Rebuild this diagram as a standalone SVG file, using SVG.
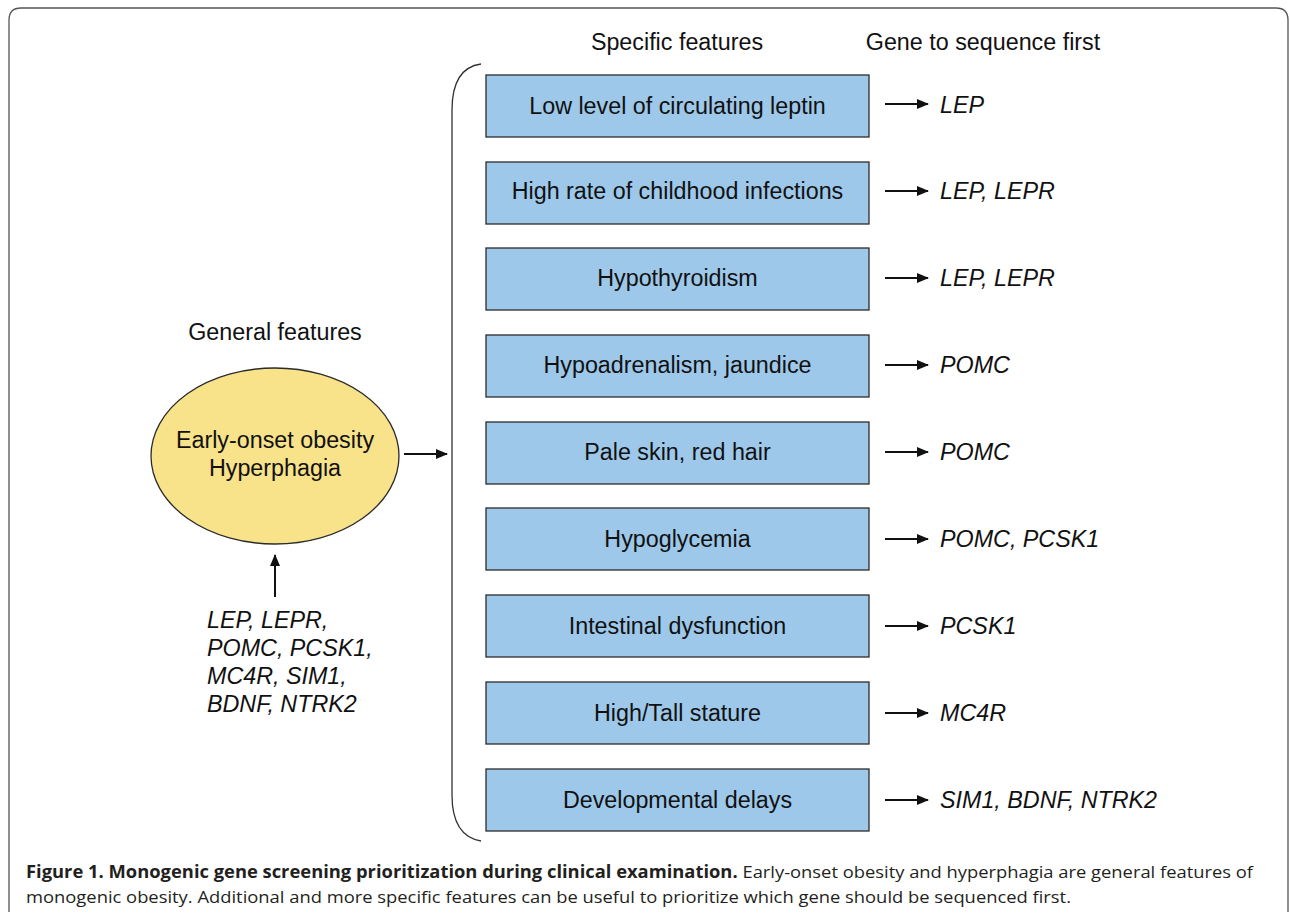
<svg xmlns="http://www.w3.org/2000/svg" width="1290" height="918" viewBox="0 0 1290 918">
<style>
.box{fill:#9dc8ea;stroke:#2b2b2b;stroke-width:1.3}
.bt{font-family:"Liberation Sans",Arial,sans-serif;font-size:23.3px;fill:#111;text-anchor:middle}
.gt{font-family:"Liberation Sans",Arial,sans-serif;font-size:23.3px;fill:#111;font-style:italic}
.hd{font-family:"Liberation Sans",Arial,sans-serif;font-size:23.3px;fill:#111}
.ln{stroke:#111;stroke-width:2;fill:none}
.cap{font-family:"Open Sans","Noto Sans",sans-serif;font-size:17px;fill:#231f20}
</style>
<defs>
<marker id="ah" markerWidth="12" markerHeight="10" refX="11" refY="5" orient="auto" markerUnits="userSpaceOnUse">
<path d="M0,0 L12,5 L0,10 z" fill="#111"/>
</marker>
</defs>
<rect width="1290" height="918" fill="#fff"/>
<path d="M9,912 V20 Q9,8 21,8 H1276 Q1288,8 1288,20 V912" fill="none" stroke="#555" stroke-width="1.3"/>
<path d="M481,64 Q452,68 452,110 V795 Q452,836 481,841" fill="none" stroke="#333" stroke-width="1.3"/>
<text class="hd" x="677" y="50" text-anchor="middle">Specific features</text>
<text class="hd" x="983" y="50" text-anchor="middle">Gene to sequence first</text>
<g id="general">
<text class="hd" x="275" y="340" text-anchor="middle">General features</text>
<ellipse cx="275" cy="456" rx="124" ry="88" fill="#f8e38a" stroke="#2b2b2b" stroke-width="1.3"/>
<text class="bt" x="275" y="448">Early-onset obesity</text>
<text class="bt" x="275" y="476">Hyperphagia</text>
</g>
<g id="genes-general">
<text class="gt" x="207" y="628">LEP, LEPR,</text>
<text class="gt" x="207" y="656">POMC, PCSK1,</text>
<text class="gt" x="207" y="684">MC4R, SIM1,</text>
<text class="gt" x="207" y="712">BDNF, NTRK2</text>
</g>
<g id="n1"><rect class="box" x="486" y="75" width="383" height="62"/><text class="bt" x="677.5" y="114">Low level of circulating leptin</text><text class="gt" x="940" y="113">LEP</text></g>
<g id="n2"><rect class="box" x="486" y="162" width="383" height="62"/><text class="bt" x="677.5" y="199">High rate of childhood infections</text><text class="gt" x="940" y="199">LEP, LEPR</text></g>
<g id="n3"><rect class="box" x="486" y="248" width="383" height="62"/><text class="bt" x="677.5" y="286">Hypothyroidism</text><text class="gt" x="940" y="286">LEP, LEPR</text></g>
<g id="n4"><rect class="box" x="486" y="335" width="383" height="62"/><text class="bt" x="677.5" y="373">Hypoadrenalism, jaundice</text><text class="gt" x="940" y="373">POMC</text></g>
<g id="n5"><rect class="box" x="486" y="422" width="383" height="62"/><text class="bt" x="677.5" y="460">Pale skin, red hair</text><text class="gt" x="940" y="460">POMC</text></g>
<g id="n6"><rect class="box" x="486" y="508" width="383" height="62"/><text class="bt" x="677.5" y="547">Hypoglycemia</text><text class="gt" x="940" y="547">POMC, PCSK1</text></g>
<g id="n7"><rect class="box" x="486" y="595" width="383" height="62"/><text class="bt" x="677.5" y="634">Intestinal dysfunction</text><text class="gt" x="940" y="634">PCSK1</text></g>
<g id="n8"><rect class="box" x="486" y="682" width="383" height="62"/><text class="bt" x="677.5" y="721">High/Tall stature</text><text class="gt" x="940" y="721">MC4R</text></g>
<g id="n9"><rect class="box" x="486" y="769" width="383" height="62"/><text class="bt" x="677.5" y="808">Developmental delays</text><text class="gt" x="940" y="808">SIM1, BDNF, NTRK2</text></g>
<g id="connectors">
<line class="ln" x1="404" y1="454" x2="447" y2="454" marker-end="url(#ah)"/>
<line class="ln" x1="275" y1="597" x2="275" y2="555" marker-end="url(#ah)"/>
<line class="ln" x1="885" y1="104" x2="928" y2="104" marker-end="url(#ah)"/>
<line class="ln" x1="885" y1="191" x2="928" y2="191" marker-end="url(#ah)"/>
<line class="ln" x1="885" y1="278" x2="928" y2="278" marker-end="url(#ah)"/>
<line class="ln" x1="885" y1="365" x2="928" y2="365" marker-end="url(#ah)"/>
<line class="ln" x1="885" y1="452" x2="928" y2="452" marker-end="url(#ah)"/>
<line class="ln" x1="885" y1="539" x2="928" y2="539" marker-end="url(#ah)"/>
<line class="ln" x1="885" y1="626" x2="928" y2="626" marker-end="url(#ah)"/>
<line class="ln" x1="885" y1="713" x2="928" y2="713" marker-end="url(#ah)"/>
<line class="ln" x1="885" y1="800" x2="928" y2="800" marker-end="url(#ah)"/>
</g>
<text class="cap" x="26" y="878" textLength="1227" lengthAdjust="spacingAndGlyphs"><tspan font-weight="bold">Figure 1. Monogenic gene screening prioritization during clinical examination.</tspan> Early-onset obesity and hyperphagia are general features of</text>
<text class="cap" x="26" y="903" textLength="1045" lengthAdjust="spacingAndGlyphs">monogenic obesity. Additional and more specific features can be useful to prioritize which gene should be sequenced first.</text>
</svg>
